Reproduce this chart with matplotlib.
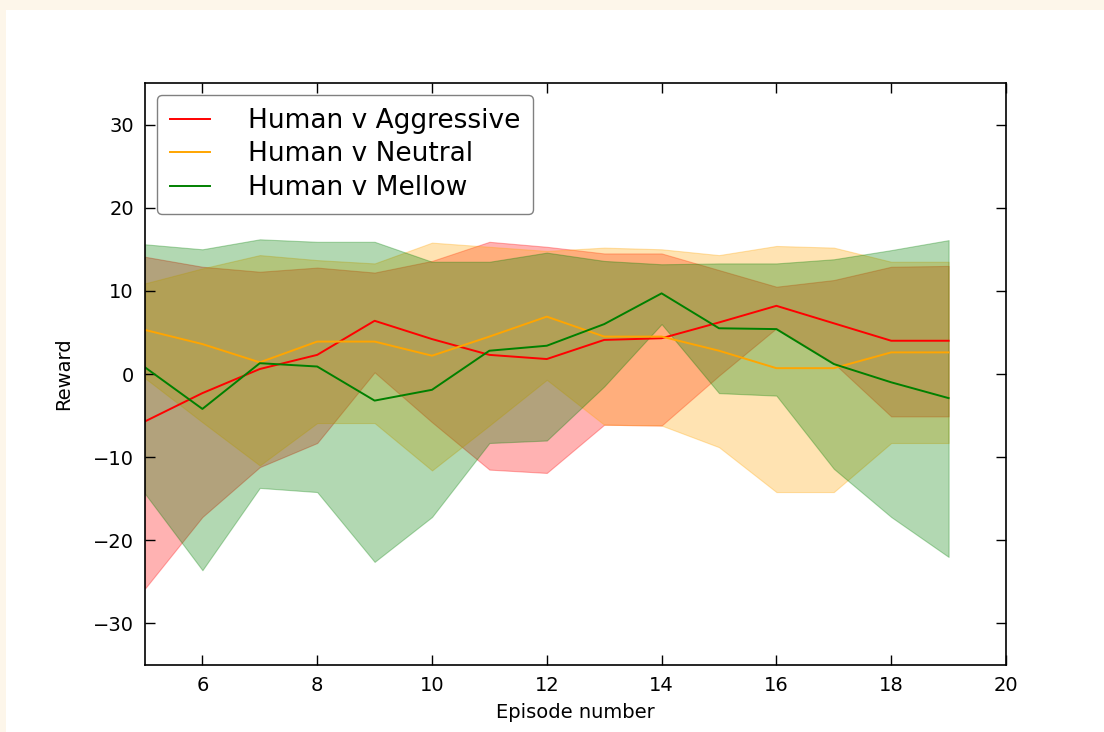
import numpy as np
import matplotlib
matplotlib.use("Agg")
import matplotlib.pyplot as plt
from matplotlib.patches import Rectangle

# episodes on the x axis
episodes = [5, 6, 7, 8, 9, 10, 11, 12, 13, 14, 15, 16, 17, 18, 19]

# mean reward per opponent type
aggressive_mean = [-5.7, -2.3, 0.6, 2.3, 6.4, 4.2, 2.3, 1.8, 4.1, 4.3, 6.2, 8.2, 6.1, 4.0, 4.0]
neutral_mean = [5.3, 3.6, 1.4, 3.9, 3.9, 2.2, 4.5, 6.9, 4.5, 4.5, 2.8, 0.7, 0.7, 2.6, 2.6]
mellow_mean = [0.8, -4.2, 1.3, 0.9, -3.2, -1.9, 2.8, 3.4, 6.0, 9.7, 5.5, 5.4, 1.2, -1.0, -2.9]

# band limits
aggressive_upper = [14.1, 12.9, 12.3, 12.8, 12.2, 13.6, 15.9, 15.3, 14.5, 14.5, 12.5, 10.5, 11.3, 12.9, 13.0]
aggressive_lower = [-25.8, -17.2, -11.2, -8.3, 0.2, -5.8, -11.5, -11.9, -6.1, -6.2, -0.2, 5.5, 1.3, -5.1, -5.1]
neutral_upper = [10.9, 12.7, 14.3, 13.7, 13.3, 15.8, 15.3, 14.8, 15.2, 15.0, 14.3, 15.4, 15.2, 13.5, 13.5]
neutral_lower = [-0.5, -5.8, -11.0, -5.9, -5.9, -11.6, -6.2, -0.7, -6.1, -6.2, -8.8, -14.2, -14.2, -8.3, -8.3]
mellow_upper = [15.6, 15.0, 16.2, 15.9, 15.9, 13.5, 13.5, 14.6, 13.6, 13.2, 13.3, 13.3, 13.8, 14.9, 16.1]
mellow_lower = [-14.4, -23.6, -13.7, -14.2, -22.6, -17.2, -8.3, -8.0, -1.5, 6.0, -2.3, -2.6, -11.4, -17.2, -22.0]

labels = ["Human v Aggressive", "Human v Neutral", "Human v Mellow"]
colors = ["red", "orange", "green"]

plt.rcParams["font.family"] = "DejaVu Sans"

fig = plt.figure(figsize=(11.04, 7.32), dpi=100)
fig.patch.set_facecolor("white")
# cream page border seen in the screenshot
fig.patches.append(Rectangle((0, 1 - 10 / 732), 1, 10 / 732, transform=fig.transFigure,
                             facecolor="#fdf6ea", edgecolor="none", zorder=-10))
fig.patches.append(Rectangle((0, 0), 6 / 1104, 1, transform=fig.transFigure,
                             facecolor="#fdf6ea", edgecolor="none", zorder=-10))

ax = fig.add_axes([145 / 1104, 1 - 665 / 732, (1006 - 145) / 1104, (665 - 83) / 732])

series = [
    (aggressive_mean, aggressive_lower, aggressive_upper),
    (neutral_mean, neutral_lower, neutral_upper),
    (mellow_mean, mellow_lower, mellow_upper),
]
for (mean, lo, hi), col, lab in zip(series, colors, labels):
    ax.fill_between(episodes, lo, hi, color=col, alpha=0.3, linewidth=0.8)
    ax.plot(episodes, mean, color=col, linewidth=1.4, label=lab)

ax.set_xlim(5, 20)
ax.set_ylim(-35, 35)
ax.set_xticks(np.arange(6, 21, 2))
ax.set_yticks([-30, -20, -10, 0, 10, 20, 30])
ax.tick_params(direction="in", top=True, right=True, length=7, width=1, labelsize=14, pad=8)
for s in ax.spines.values():
    s.set_linewidth(1.2)

ax.set_xlabel("Episode number", fontsize=14, labelpad=6)
ax.set_ylabel("Reward", fontsize=14, labelpad=14)

leg = ax.legend(loc="upper left", fontsize=19, fancybox=True, framealpha=1,
                handlelength=1.5, handletextpad=1.45, borderpad=0.5, labelspacing=0.28,
                borderaxespad=0.45)
leg.get_frame().set_edgecolor("gray")

fig.savefig("out.png", dpi=100)
